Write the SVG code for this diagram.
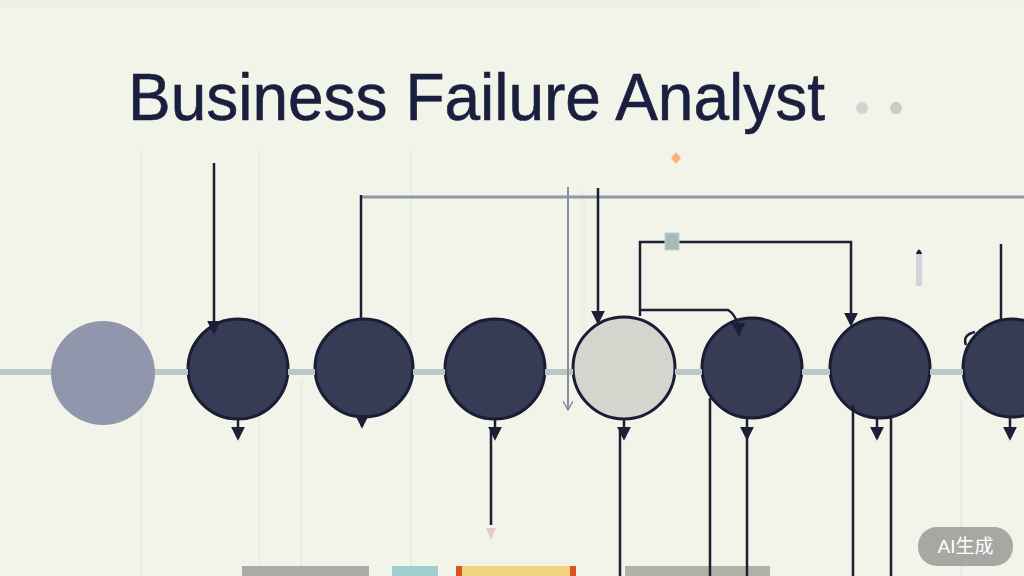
<svg xmlns="http://www.w3.org/2000/svg" width="1024" height="576" viewBox="0 0 1024 576">
<defs>
<style>
.title{font-family:"Liberation Sans",Arial,sans-serif;font-size:66px;fill:#1b1f3f;stroke:#1b1f3f;stroke-width:0.6}
.dark{fill:#363b56;stroke:#1b1d35;stroke-width:3}
.ln{fill:none;stroke:#1c1f36;stroke-width:2.5}
.gl{fill:none;stroke:#8d9aa6;stroke-width:3}
.sp{stroke:#bcc6c6;stroke-width:6}
.wm{font-family:"Liberation Sans","Noto Sans CJK SC",sans-serif;font-size:19px;fill:#ffffff}
</style>
<marker id="ah" viewBox="0 0 10 10" refX="8" refY="5" markerWidth="5.5" markerHeight="5.5" orient="auto" markerUnits="strokeWidth">
<path d="M0,0 L10,5 L0,10 z" fill="#1c1f36"/>
</marker>
<marker id="ao" viewBox="0 0 10 10" refX="9" refY="5" markerWidth="5" markerHeight="5" orient="auto" markerUnits="strokeWidth">
<path d="M0,0 L9,5 L0,10" fill="none" stroke="#8b8e9e" stroke-width="1.5"/>
</marker>
</defs>
<rect width="1024" height="576" fill="#f2f3e9"/>
<g id="background" opacity="0.5">
<rect x="0" y="0" width="1024" height="8" fill="#eef2dc"/>
<rect x="140" y="150" width="3" height="426" fill="#e6ece4"/>
<rect x="258" y="150" width="2" height="426" fill="#e2ebe9"/>
<rect x="300" y="380" width="3" height="196" fill="#dcebe8"/>
<rect x="410" y="150" width="2" height="426" fill="#e4e8e6"/>
<rect x="580" y="190" width="6" height="210" fill="#eceed8"/>
<rect x="960" y="400" width="3" height="176" fill="#dfe8ea"/>
</g>
<g id="title">
<text class="title" x="128" y="120" textLength="697" lengthAdjust="spacingAndGlyphs">Business Failure Analyst</text>
<circle cx="862" cy="108" r="6" fill="#d6d2d2"/>
<circle cx="896" cy="108" r="6" fill="#cfc9c9"/>
<path d="M676,152 L681,158 L676,164 L671,158 z" fill="#f5b47e"/>
</g>
<g id="bottom-bars">
<rect x="242" y="566" width="127" height="10" fill="#a9aba4"/>
<rect x="392" y="566" width="46" height="10" fill="#9fcfcc"/>
<rect x="457" y="566" width="118" height="10" fill="#f2d27e"/>
<rect x="456" y="566" width="6" height="10" fill="#d9531e"/>
<rect x="570" y="566" width="6" height="10" fill="#d9531e"/>
<rect x="625" y="566" width="145" height="10" fill="#b0b2aa"/>
</g>
<g id="node1"><circle cx="103" cy="373" r="52" fill="#9097ac"/></g>
<g id="node2"><circle class="dark" cx="238" cy="369" r="50"/></g>
<g id="node3"><circle class="dark" cx="364" cy="368" r="49"/></g>
<g id="node4"><circle class="dark" cx="495" cy="369" r="50"/></g>
<g id="node5"><circle cx="624" cy="368" r="51" fill="#d5d5cd" stroke="#1b1d35" stroke-width="3"/></g>
<g id="node6"><circle class="dark" cx="752" cy="368" r="50"/></g>
<g id="node7"><circle class="dark" cx="880" cy="368" r="50"/></g>
<g id="node8"><circle class="dark" cx="1012" cy="368" r="49"/></g>
<g id="connectors">
<line class="sp" x1="0" y1="372" x2="51" y2="372"/>
<line class="sp" x1="155" y1="372" x2="188" y2="372"/>
<line class="sp" x1="288" y1="372" x2="315" y2="372"/>
<line class="sp" x1="413" y1="372" x2="445" y2="372"/>
<line class="sp" x1="545" y1="372" x2="573" y2="372"/>
<line class="sp" x1="675" y1="372" x2="702" y2="372"/>
<line class="sp" x1="802" y1="372" x2="830" y2="372"/>
<line class="sp" x1="930" y1="372" x2="963" y2="372"/>
<line class="ln" x1="214" y1="163" x2="214" y2="332" marker-end="url(#ah)"/>
<line class="gl" x1="361" y1="197" x2="1024" y2="197"/>
<line class="ln" x1="361" y1="195" x2="361" y2="319"/>
<line x1="568" y1="187" x2="568" y2="410" stroke="#8b8e9e" stroke-width="2" marker-end="url(#ao)"/>
<line class="ln" x1="598" y1="188" x2="598" y2="322" marker-end="url(#ah)"/>
<polyline class="ln" points="640,316 640,242 851,242 851,324" marker-end="url(#ah)"/>
<rect x="665" y="233" width="14" height="17" fill="#a9b8b8" stroke="#c8d0cc" stroke-width="1"/>
<path class="ln" d="M640,310 L728,310 Q738,316 739,334" stroke-width="3" marker-end="url(#ah)"/>
<rect x="916" y="252" width="6" height="34" fill="#d0d4dc"/>
<path d="M916,254 Q919,245 922,254 z" fill="#1c1f36"/>
<line class="ln" x1="1001" y1="244" x2="1001" y2="320"/>
<path class="ln" d="M966,345 Q962,335 975,332"/>
<line class="ln" x1="238" y1="418" x2="238" y2="438" marker-end="url(#ah)"/>
<line class="ln" x1="362" y1="416" x2="362" y2="426" marker-end="url(#ah)"/>
<line class="ln" x1="495" y1="418" x2="495" y2="438" marker-end="url(#ah)"/>
<line class="ln" x1="491" y1="430" x2="491" y2="525"/>
<path d="M486,528 L496,528 L491,540 z" fill="#e8c8c8"/>
<line class="ln" x1="624" y1="418" x2="624" y2="438" marker-end="url(#ah)"/>
<line class="ln" x1="620" y1="430" x2="620" y2="576"/>
<line class="ln" x1="710" y1="398" x2="710" y2="576"/>
<line class="ln" x1="747" y1="418" x2="747" y2="438" marker-end="url(#ah)"/>
<line class="ln" x1="747" y1="430" x2="747" y2="576"/>
<line class="ln" x1="853" y1="405" x2="853" y2="576"/>
<line class="ln" x1="877" y1="418" x2="877" y2="438" marker-end="url(#ah)"/>
<line class="ln" x1="891" y1="418" x2="891" y2="576"/>
<line class="ln" x1="1010" y1="416" x2="1010" y2="438" marker-end="url(#ah)"/>
</g>
<g id="watermark">
<rect x="918" y="527" width="95" height="39" rx="19" fill="#9a9a98" opacity="0.85"/>
<text class="wm" x="965.5" y="553" text-anchor="middle">AI生成</text>
</g>
</svg>
